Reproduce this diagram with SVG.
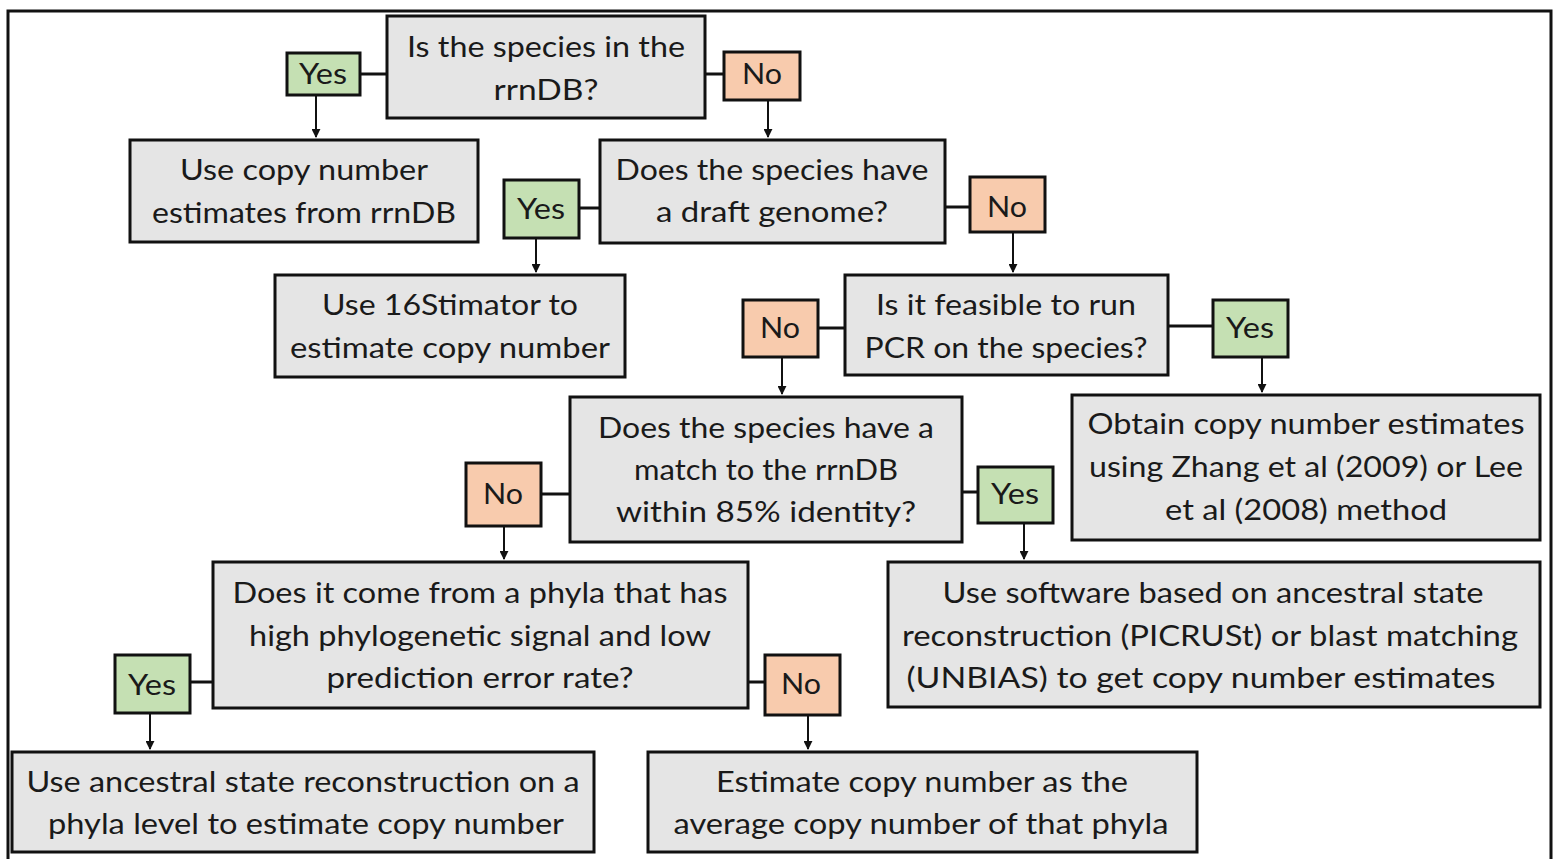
<svg xmlns="http://www.w3.org/2000/svg" width="1559" height="859" viewBox="0 0 1559 859">
<defs>
<style>
.box{fill:#e5e5e5;stroke:#111;stroke-width:3}
.yes{fill:#c5e0b3;stroke:#111;stroke-width:3}
.no{fill:#f8cbad;stroke:#111;stroke-width:3}
.t{font-family:Lato,"Open Sans",sans-serif;font-size:29px;fill:#1a1a1a;text-anchor:middle}
.c{stroke:#111;stroke-width:3;fill:none}
.a{stroke:#111;stroke-width:2;fill:none;marker-end:url(#ah)}
</style>
<marker id="ah" viewBox="0 0 10 10" refX="9" refY="5" markerWidth="4.5" markerHeight="4.5" orient="auto" markerUnits="strokeWidth">
<path d="M0,0 L10,5 L0,10 z" fill="#111"/>
</marker>
</defs>
<rect width="1559" height="859" fill="#fff"/>
<path d="M8,870 V11 H1551 V870" fill="none" stroke="#111" stroke-width="3"/>

<g id="connectors">
<line class="c" x1="360" y1="74" x2="387" y2="74"/>
<line class="c" x1="705" y1="74" x2="724" y2="74"/>
<line class="a" x1="316" y1="95" x2="316" y2="137"/>
<line class="a" x1="768" y1="100" x2="768" y2="137"/>
<line class="c" x1="579" y1="208" x2="600" y2="208"/>
<line class="c" x1="945" y1="207" x2="970" y2="207"/>
<line class="a" x1="536" y1="238" x2="536" y2="272"/>
<line class="a" x1="1013" y1="232" x2="1013" y2="272"/>
<line class="c" x1="818" y1="328" x2="845" y2="328"/>
<line class="c" x1="1168" y1="326" x2="1213" y2="326"/>
<line class="a" x1="782" y1="357" x2="782" y2="394"/>
<line class="a" x1="1262" y1="357" x2="1262" y2="392"/>
<line class="c" x1="541" y1="494" x2="570" y2="494"/>
<line class="c" x1="962" y1="492" x2="978" y2="492"/>
<line class="a" x1="504" y1="526" x2="504" y2="559"/>
<line class="a" x1="1024" y1="523" x2="1024" y2="559"/>
<line class="c" x1="190" y1="682" x2="213" y2="682"/>
<line class="c" x1="748" y1="682" x2="765" y2="682"/>
<line class="a" x1="150" y1="713" x2="150" y2="749"/>
<line class="a" x1="808" y1="715" x2="808" y2="749"/>
</g>

<g id="q1"><rect class="box" x="387" y="16" width="318" height="102"/>
<text class="t" x="546" y="57" textLength="278" lengthAdjust="spacingAndGlyphs">Is the species in the</text>
<text class="t" x="546" y="100" textLength="105" lengthAdjust="spacingAndGlyphs">rrnDB?</text></g>
<g id="yes1"><rect class="yes" x="287" y="53" width="73" height="42"/><text class="t" x="323" y="84" textLength="48" lengthAdjust="spacingAndGlyphs">Yes</text></g>
<g id="no1"><rect class="no" x="724" y="52" width="76" height="48"/><text class="t" x="762" y="84" textLength="40" lengthAdjust="spacingAndGlyphs">No</text></g>

<g id="a1"><rect class="box" x="130" y="140" width="348" height="102"/>
<text class="t" x="304" y="180" textLength="248" lengthAdjust="spacingAndGlyphs">Use copy number</text>
<text class="t" x="304" y="223" textLength="304" lengthAdjust="spacingAndGlyphs">estimates from rrnDB</text></g>

<g id="q2"><rect class="box" x="600" y="140" width="345" height="103"/>
<text class="t" x="772" y="180" textLength="313" lengthAdjust="spacingAndGlyphs">Does the species have</text>
<text class="t" x="772" y="222" textLength="232" lengthAdjust="spacingAndGlyphs">a draft genome?</text></g>
<g id="yes2"><rect class="yes" x="504" y="180" width="75" height="58"/><text class="t" x="541" y="219" textLength="48" lengthAdjust="spacingAndGlyphs">Yes</text></g>
<g id="no2"><rect class="no" x="970" y="177" width="75" height="55"/><text class="t" x="1007" y="217" textLength="40" lengthAdjust="spacingAndGlyphs">No</text></g>

<g id="a2"><rect class="box" x="275" y="275" width="350" height="102"/>
<text class="t" x="450" y="315" textLength="256" lengthAdjust="spacingAndGlyphs">Use 16Stimator to</text>
<text class="t" x="450" y="358" textLength="320" lengthAdjust="spacingAndGlyphs">estimate copy number</text></g>

<g id="q3"><rect class="box" x="845" y="275" width="323" height="100"/>
<text class="t" x="1006" y="315" textLength="260" lengthAdjust="spacingAndGlyphs">Is it feasible to run</text>
<text class="t" x="1006" y="358" textLength="283" lengthAdjust="spacingAndGlyphs">PCR on the species?</text></g>
<g id="no3"><rect class="no" x="743" y="300" width="75" height="57"/><text class="t" x="780" y="338" textLength="40" lengthAdjust="spacingAndGlyphs">No</text></g>
<g id="yes3"><rect class="yes" x="1213" y="300" width="75" height="57"/><text class="t" x="1250" y="338" textLength="48" lengthAdjust="spacingAndGlyphs">Yes</text></g>

<g id="q4"><rect class="box" x="570" y="397" width="392" height="145"/>
<text class="t" x="766" y="438" textLength="336" lengthAdjust="spacingAndGlyphs">Does the species have a</text>
<text class="t" x="766" y="480" textLength="264" lengthAdjust="spacingAndGlyphs">match to the rrnDB</text>
<text class="t" x="766" y="522" textLength="300" lengthAdjust="spacingAndGlyphs">within 85% identity?</text></g>
<g id="no4"><rect class="no" x="466" y="463" width="75" height="63"/><text class="t" x="503" y="504" textLength="40" lengthAdjust="spacingAndGlyphs">No</text></g>
<g id="yes4"><rect class="yes" x="978" y="467" width="75" height="56"/><text class="t" x="1015" y="504" textLength="48" lengthAdjust="spacingAndGlyphs">Yes</text></g>

<g id="a3"><rect class="box" x="1072" y="395" width="468" height="145"/>
<text class="t" x="1306" y="434" textLength="437" lengthAdjust="spacingAndGlyphs">Obtain copy number estimates</text>
<text class="t" x="1306" y="477" textLength="434" lengthAdjust="spacingAndGlyphs">using Zhang et al (2009) or Lee</text>
<text class="t" x="1306" y="520" textLength="282" lengthAdjust="spacingAndGlyphs">et al (2008) method</text></g>

<g id="q5"><rect class="box" x="213" y="562" width="535" height="146"/>
<text class="t" x="480" y="603" textLength="495" lengthAdjust="spacingAndGlyphs">Does it come from a phyla that has</text>
<text class="t" x="480" y="646" textLength="462" lengthAdjust="spacingAndGlyphs">high phylogenetic signal and low</text>
<text class="t" x="480" y="688" textLength="307" lengthAdjust="spacingAndGlyphs">prediction error rate?</text></g>
<g id="yes5"><rect class="yes" x="115" y="655" width="75" height="58"/><text class="t" x="152" y="695" textLength="48" lengthAdjust="spacingAndGlyphs">Yes</text></g>
<g id="no5"><rect class="no" x="765" y="655" width="75" height="60"/><text class="t" x="801" y="694" textLength="40" lengthAdjust="spacingAndGlyphs">No</text></g>

<g id="a4"><rect class="box" x="888" y="562" width="652" height="145"/>
<text class="t" x="1213" y="603" textLength="541" lengthAdjust="spacingAndGlyphs">Use software based on ancestral state</text>
<text class="t" x="1210" y="646" textLength="616" lengthAdjust="spacingAndGlyphs">reconstruction (PICRUSt) or blast matching</text>
<text class="t" x="1201" y="688" textLength="589" lengthAdjust="spacingAndGlyphs">(UNBIAS) to get copy number estimates</text></g>

<g id="a5"><rect class="box" x="12" y="752" width="582" height="100"/>
<text class="t" x="303" y="792" textLength="553" lengthAdjust="spacingAndGlyphs">Use ancestral state reconstruction on a</text>
<text class="t" x="306" y="834" textLength="516" lengthAdjust="spacingAndGlyphs">phyla level to estimate copy number</text></g>

<g id="a6"><rect class="box" x="648" y="752" width="549" height="100"/>
<text class="t" x="922" y="792" textLength="412" lengthAdjust="spacingAndGlyphs">Estimate copy number as the</text>
<text class="t" x="921" y="834" textLength="495" lengthAdjust="spacingAndGlyphs">average copy number of that phyla</text></g>
</svg>
